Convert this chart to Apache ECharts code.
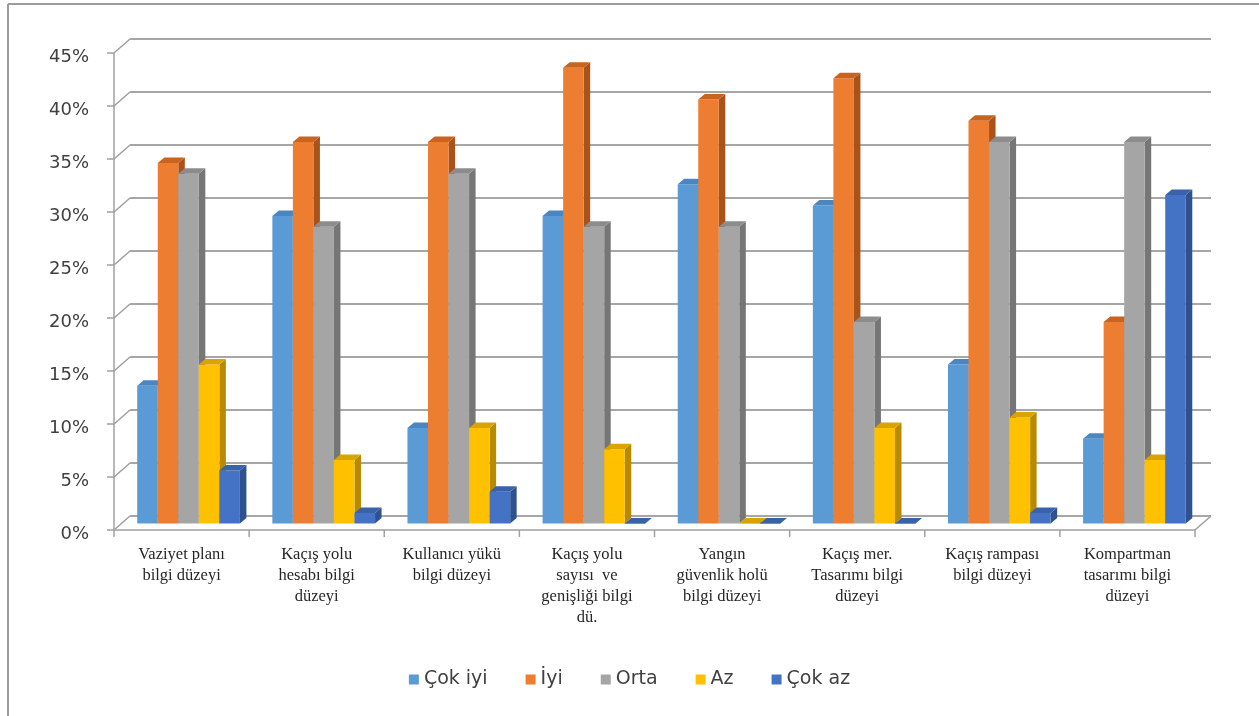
<!DOCTYPE html>
<html>
<head>
<meta charset="utf-8">
<script src="https://cdn.jsdelivr.net/npm/echarts@6/dist/echarts.min.js"></script>
<style>
  html, body { margin: 0; padding: 0; background: #ffffff; }
  #chart { width: 1259px; height: 716px; }
</style>
</head>
<body>
<div id="chart"></div>
<script>
// Categories (knowledge level topics)
const categories = [
  'Vaziyet planı\nbilgi düzeyi',
  'Kaçış yolu\nhesabı bilgi\ndüzeyi',
  'Kullanıcı yükü\nbilgi düzeyi',
  'Kaçış yolu\nsayısı  ve\ngenişliği bilgi\ndü.',
  'Yangın\ngüvenlik holü\nbilgi düzeyi',
  'Kaçış mer.\nTasarımı bilgi\ndüzeyi',
  'Kaçış rampası\nbilgi düzeyi',
  'Kompartman\ntasarımı bilgi\ndüzeyi'
];

// Series values (percent)
const cokIyi = [13, 29, 9, 29, 32, 30, 15, 8];
const iyi    = [34, 36, 36, 43, 40, 42, 38, 19];
const orta   = [33, 28, 33, 28, 28, 19, 36, 36];
const az     = [15, 6, 9, 7, 0, 9, 10, 6];
const cokAz  = [5, 1, 3, 0, 0, 0, 1, 31];

const seriesNames = ['Çok iyi', 'İyi', 'Orta', 'Az', 'Çok az'];
const seriesValues = [cokIyi, iyi, orta, az, cokAz];

// Value axis ticks
const yTicks = [0, 5, 10, 15, 20, 25, 30, 35, 40, 45];

// Face colours: front, top, side
const palette = [
  { front: '#5b9bd5', top: '#4a86c0', side: '#3c71a6' },
  { front: '#ed7d31', top: '#c8641f', side: '#a9521a' },
  { front: '#a5a5a5', top: '#8c8c8c', side: '#767676' },
  { front: '#ffc000', top: '#d9a300', side: '#b88a00' },
  { front: '#4472c4', top: '#3a62a8', side: '#2f5190' }
];

// Pseudo-3D geometry: the grid is the back wall, the front plane sits
// down-left of it, bars stand in between.
const WALL_DX = -16, WALL_DY = 14;      // back wall -> front plane
const BAR_DX = -9, BAR_DY = 7.5;        // back wall -> bar front face
const DEPTH_DX = 6.5, DEPTH_DY = -5.5;  // bar front face -> bar back face
const GROUP = 0.76;                     // share of a category taken by the bars

function barRenderer(idx) {
  const c = palette[idx];
  const n = seriesNames.length;
  return function (params, api) {
    const cat = api.value(0);
    const val = api.value(1);
    const band = api.size([1, 0])[0];
    const w = band * GROUP / n;
    const base = api.coord([cat, 0]);
    const top = api.coord([cat, val]);
    const x = base[0] - band * GROUP / 2 + idx * w + BAR_DX;
    const yTop = top[1] + BAR_DY;
    const yBot = base[1] + BAR_DY;
    const h = Math.max(yBot - yTop, 1);
    const children = [];
    children.push({
      type: 'polygon',
      shape: { points: [[x + w, yBot], [x + w + DEPTH_DX, yBot + DEPTH_DY],
                        [x + w + DEPTH_DX, yTop + DEPTH_DY], [x + w, yTop]] },
      style: { fill: c.side }
    });
    children.push({
      type: 'rect',
      shape: { x: x, y: yBot - h, width: w, height: h },
      style: { fill: c.front }
    });
    children.push({
      type: 'polygon',
      shape: { points: [[x, yTop], [x + w, yTop],
                        [x + w + DEPTH_DX, yTop + DEPTH_DY], [x + DEPTH_DX, yTop + DEPTH_DY]] },
      style: { fill: c.top }
    });
    return { type: 'group', children: children };
  };
}

// Front axis, tick connectors and floor edges
function frameRenderer(params, api) {
  const cs = params.coordSys;
  const gx = cs.x, gw = cs.width;
  const bottom = cs.y + cs.height;
  const p = api.coord([0, api.value(1)]);
  const line = { stroke: '#a0a0a0', lineWidth: 1.5, fill: null };
  const children = [{
    type: 'polyline',
    shape: { points: [[gx + WALL_DX - 7, p[1] + WALL_DY], [gx + WALL_DX, p[1] + WALL_DY], [gx, p[1]]] },
    style: line
  }];
  if (params.dataIndex === 0) {
    const top = cs.y;
    children.push({
      type: 'line',
      shape: { x1: gx + WALL_DX, y1: top + WALL_DY, x2: gx + WALL_DX, y2: bottom + WALL_DY },
      style: line
    });
    children.push({
      type: 'polyline',
      shape: { points: [[gx + WALL_DX, bottom + WALL_DY], [gx + gw + WALL_DX, bottom + WALL_DY], [gx + gw, bottom]] },
      style: line
    });
    const nCat = categories.length;
    for (let k = 0; k <= nCat; k++) {
      const tx = gx + WALL_DX + k * gw / nCat;
      children.push({
        type: 'line',
        shape: { x1: tx, y1: bottom + WALL_DY, x2: tx, y2: bottom + WALL_DY + 7 },
        style: line
      });
    }
  }
  return { type: 'group', children: children };
}

const chart = echarts.init(document.getElementById('chart'), null, { renderer: 'canvas' });

const series = seriesNames.map((name, i) => ({
  name: name,
  type: 'custom',
  renderItem: barRenderer(i),
  encode: { x: 0, y: 1 },
  data: seriesValues[i].map((v, k) => [k, v]),
  itemStyle: { color: palette[i].front },
  clip: false,
  z: 3
}));

series.unshift({
  name: 'frame',
  type: 'custom',
  silent: true,
  renderItem: frameRenderer,
  encode: { x: 0, y: 1 },
  data: yTicks.map(t => [0, t]),
  clip: false,
  z: 2
});

chart.setOption({
  animation: false,
  backgroundColor: '#ffffff',
  graphic: [
    { type: 'line', shape: { x1: 8, y1: 4, x2: 8, y2: 716 }, style: { stroke: '#9c9c9c', lineWidth: 2 } },
    { type: 'line', shape: { x1: 8, y1: 4, x2: 1259, y2: 4 }, style: { stroke: '#9c9c9c', lineWidth: 2 } }
  ],
  grid: { left: 130, right: 48, top: 39, bottom: 200, containLabel: false },
  legend: {
    data: seriesNames,
    bottom: 22,
    left: 'center',
    icon: 'rect',
    itemWidth: 10,
    itemHeight: 10,
    itemGap: 38,
    textStyle: { fontFamily: 'DejaVu Sans', fontSize: 19, color: '#404040' }
  },
  xAxis: {
    type: 'category',
    data: categories,
    axisLine: { show: false },
    axisTick: { show: false },
    axisLabel: {
      interval: 0,
      margin: 28,
      padding: [0, 32, 0, 0],
      fontFamily: 'Liberation Serif',
      fontSize: 16.5,
      lineHeight: 21,
      color: '#262626'
    },
    splitLine: { show: false }
  },
  yAxis: {
    type: 'value',
    min: 0,
    max: 45,
    interval: 5,
    axisLine: { show: false },
    axisTick: { show: false },
    axisLabel: {
      formatter: '{value}%',
      margin: 41,
      verticalAlign: 'top',
      lineHeight: 36,
      fontFamily: 'DejaVu Sans',
      fontSize: 18,
      color: '#404040'
    },
    splitLine: { show: true, lineStyle: { color: '#a6a6a6', width: 2 } }
  },
  series: series
});
</script>
</body>
</html>
